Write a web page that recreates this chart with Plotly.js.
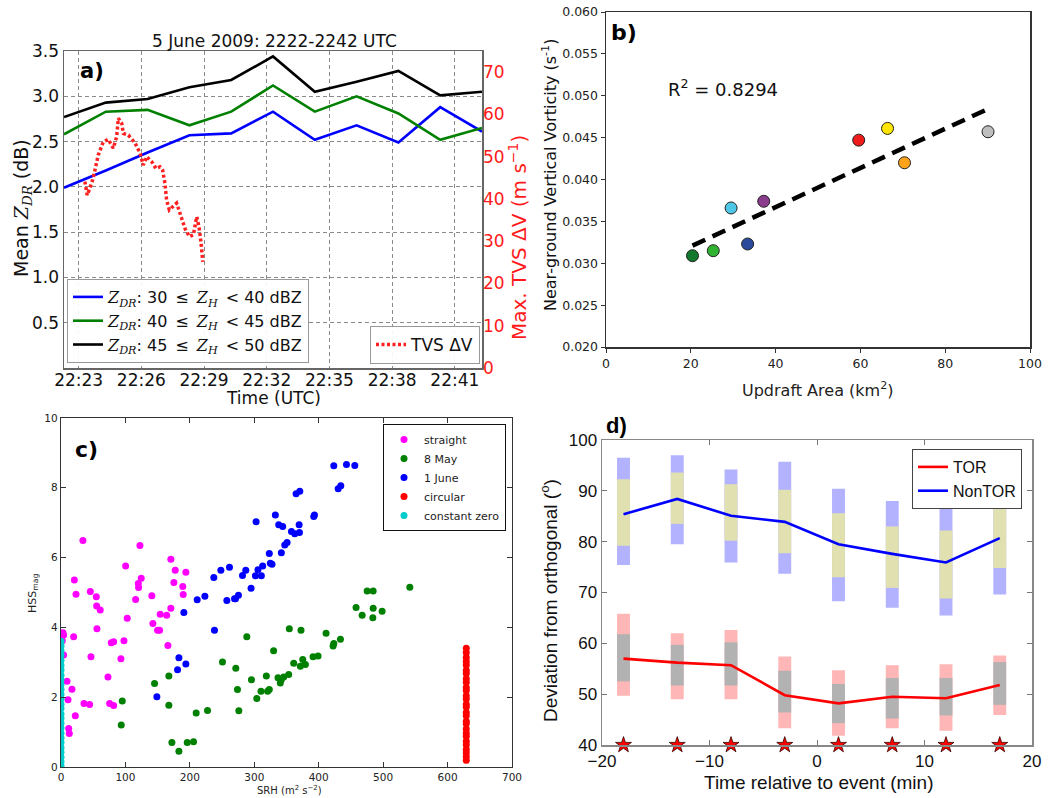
<!DOCTYPE html>
<html>
<head>
<meta charset="utf-8">
<script src="https://cdn.plot.ly/plotly-3.0.1.min.js"></script>
<style>html,body{margin:0;padding:0;background:#fff}#fig{width:1051px;height:798px}</style>
</head>
<body>
<div id="fig"></div>
<script>
// ---------- (a) mean ZDR by reflectivity bin, 5 June 2009 (minutes after 22:00 UTC)
const scanTime  = [22.3, 24.3, 26.3, 28.3, 30.3, 32.3, 34.3, 36.3, 38.3, 40.3, 42.3];
const zdr30to40 = [1.99, 2.18, 2.38, 2.57, 2.59, 2.83, 2.52, 2.68, 2.49, 2.88, 2.61];
const zdr40to45 = [2.58, 2.83, 2.85, 2.68, 2.83, 3.12, 2.83, 3.00, 2.81, 2.52, 2.65];
const zdr45to50 = [2.77, 2.93, 2.97, 3.10, 3.18, 3.44, 3.05, 3.16, 3.28, 3.01, 3.05];
const tvsTime   = [23.30, 23.41, 23.54, 23.67, 23.78, 23.94, 24.18, 24.42, 24.66, 24.82, 24.90, 25.06,
                   25.14, 25.38, 25.70, 25.94, 26.09, 26.26, 26.50, 26.70, 26.89, 27.02, 27.13, 27.21,
                   27.34, 27.69, 27.85, 28.09, 28.30, 28.49, 28.65, 28.76, 28.86, 28.94];
const tvsDeltaV = [44.1, 40.9, 42.6, 44.5, 46.8, 50.4, 53.5, 54.1, 52.0, 54.7, 59.1, 57.9,
                   55.5, 55.1, 53.2, 50.8, 48.0, 50.0, 48.8, 47.2, 47.6, 46.8, 43.7, 39.7,
                   37.4, 39.0, 36.6, 33.0, 31.1, 31.5, 35.8, 33.4, 29.5, 25.1];
const timeTicks    = [23, 26, 29, 32, 35, 38, 41];
const timeTickText = ['22:23', '22:26', '22:29', '22:32', '22:35', '22:38', '22:41'];

// ---------- (b) updraft area vs near-ground vertical vorticity
const updraftArea = [20.4, 25.3, 33.4, 29.5, 37.2, 59.6, 66.4, 70.4, 90.1];
const vorticity   = [0.0309, 0.0315, 0.0323, 0.0366, 0.0374, 0.0447, 0.0461, 0.0420, 0.0457];
const runColors   = ['#12782c', '#30b330', '#2b4a9c', '#4ec6e6', '#8b3b8b', '#ee1b1b', '#ffe600', '#ffa31a', '#bebebe'];

// ---------- (c) SRH vs HSS_mag for each hodograph type
const straightSRH = [34, 20.7, 23.3, 19.6, 4, 2, 3, 4, 9.3, 17, 10.9, 22.2, 11.9, 12.9, 35.7, 44.4, 45.5, 54.8, 60.9, 55.3,
                     55.8, 46.5, 72.9, 75.5, 81.7, 78, 81.7, 97.7, 100.3, 102.8, 93, 122.5, 124.5, 120, 120.4, 115.8, 141, 142.6, 149.9, 153,
                     154, 164, 165.9, 170.5, 170.5, 177.3, 175.2, 189, 189.7, 193.8];
const straightHSS = [6.49, 5.36, 4.95, 3.73, 3.78, 3.62, 3.85, 3.21, 2.46, 2.23, 1.93, 1.47, 1.10, 0.96, 1.82, 1.79, 5.03, 4.88, 4.50, 4.61,
                     3.96, 3.16, 2.58, 1.82, 1.76, 3.56, 3.59, 3.62, 5.76, 4.26, 3.10, 6.35, 5.41, 5.26, 5.14, 4.80, 4.91, 4.11, 3.92, 3.92,
                     4.38, 4.35, 3.48, 5.95, 4.55, 5.64, 5.29, 5.17, 4.94, 5.58];
const may8SRH = [93.5, 95.1, 145.2, 167.4, 167.4, 172.1, 183, 195.9, 205.7, 209.8, 227.4, 250.6, 271.3, 273.9, 276, 288.4, 295.6, 303.9, 310.4, 318.7,
                 320.7, 323.3, 330, 336.8, 340.4, 342, 345.6, 353.4, 354.4, 361.2, 372.5, 371.5, 375.2, 379.3, 391.2, 399, 411.4, 422.3, 423.4, 433.7,
                 458, 467.4, 475.2, 484.5, 484, 484.5, 498.4, 541.4];
const may8HSS = [1.20, 1.89, 2.39, 2.61, 1.77, 0.70, 0.45, 0.70, 0.72, 1.55, 1.62, 3.01, 2.83, 2.22, 1.61, 3.73, 2.50, 1.96, 2.17, 2.61,
                 2.17, 2.22, 3.33, 2.56, 2.41, 2.51, 2.58, 2.65, 3.96, 2.97, 3.92, 2.89, 3.08, 2.94, 3.16, 3.18, 3.83, 3.47, 3.54, 3.66,
                 4.57, 4.35, 5.04, 5.04, 4.28, 4.55, 4.46, 5.15];
const june1SRH = [148.8, 190.7, 180.9, 183, 193.8, 211.4, 223.3, 238.2, 237.2, 248.1, 257.4, 261.5, 269.3, 270.8, 275.4, 281.7, 286.8, 295, 301.8, 302.8,
                  305.7, 311, 313, 323.3, 324.9, 327.5, 332.7, 337.9, 344.1, 342, 347.3, 350.9, 357.7, 362.8, 369.6, 370.1, 364.9, 370.6, 392.3, 393.4,
                  423.4, 430.2, 434.3, 443.1, 456];
const june1HSS = [2.01, 4.43, 2.79, 3.13, 2.95, 4.79, 4.89, 3.92, 5.43, 5.64, 4.77, 5.72, 4.82, 4.82, 4.92, 5.49, 5.64, 5.12, 5.48, 7.03,
                  5.65, 5.48, 5.76, 6.12, 5.84, 5.81, 7.22, 6.94, 6.89, 6.14, 6.36, 6.43, 6.75, 6.68, 6.94, 6.72, 7.83, 7.90, 7.18, 7.22,
                  8.63, 7.97, 8.06, 8.67, 8.64];
const circularSRH = [629, 629, 629, 629, 629, 629, 629, 629, 629, 629, 629, 629, 629, 629,
                     629, 629, 629, 629, 629, 629, 629, 629, 629, 629, 629, 629, 629, 629];
const circularHSS = [0.19, 0.30, 0.41, 0.50, 0.64, 0.74, 0.88, 0.97, 1.09, 1.24, 1.31, 1.47, 1.56, 1.72,
                     1.80, 1.95, 2.04, 2.19, 2.28, 2.43, 2.53, 2.68, 2.77, 2.92, 3.02, 3.14, 3.28, 3.40];
const zeroSRH = [0, 0, 0, 0, 0, 0, 0, 0, 0, 0, 0, 0, 0, 0, 0, 0, 0, 0, 0, 0, 0, 0, 0, 0, 0, 0, 0];
const zeroHSS = [0.03, 0.15, 0.28, 0.42, 0.55, 0.70, 0.83, 0.97, 1.12, 1.25, 1.40, 1.52, 1.68, 1.80,
                 1.95, 2.08, 2.22, 2.36, 2.50, 2.63, 2.78, 2.91, 3.05, 3.20, 3.33, 3.47, 3.60];

// ---------- (d) deviation from orthogonal relative to event time
const eventTime     = [-18, -13, -8, -3, 2, 7, 12, 17];
const nontorMedian  = [85.4, 88.4, 85.1, 83.9, 79.5, 77.6, 75.9, 80.7];
const nontorOuterLo = [75.4, 79.5, 75.9, 73.7, 68.3, 67.0, 65.5, 69.6];
const nontorOuterHi = [96.5, 97.0, 94.2, 95.7, 90.4, 88.0, 87.6, 89.5];
const nontorInnerLo = [79.2, 83.5, 80.2, 77.7, 73.0, 70.9, 68.8, 74.8];
const nontorInnerHi = [92.3, 93.6, 91.3, 90.2, 85.6, 83.0, 82.2, 87.8];
const torMedian     = [57.0, 56.2, 55.7, 49.8, 48.2, 49.5, 49.2, 51.8];
const torOuterLo    = [49.7, 49.0, 49.0, 43.3, 41.8, 43.3, 42.8, 45.9];
const torOuterHi    = [65.8, 62.0, 62.6, 57.4, 54.7, 55.7, 55.9, 57.6];
const torInnerLo    = [52.5, 51.7, 51.7, 46.4, 44.3, 45.2, 45.8, 47.9];
const torInnerHi    = [61.8, 59.7, 60.2, 54.6, 52.0, 53.2, 53.2, 56.3];

// ---------- helpers
const W = 1051, H = 798;
const px = v => v / W;          // pixel column -> paper x
const py = v => 1 - v / H;      // pixel row -> paper y
const SANS = 'DejaVu Sans';
const HELV = 'Liberation Sans';
const SERIF = 'DejaVu Serif';

// least-squares fit for panel (b)
function linFit(xs, ys) {
  const n = xs.length;
  const mx = xs.reduce((a, b) => a + b, 0) / n;
  const my = ys.reduce((a, b) => a + b, 0) / n;
  let sxy = 0, sxx = 0;
  for (let i = 0; i < n; i++) { sxy += (xs[i] - mx) * (ys[i] - my); sxx += (xs[i] - mx) ** 2; }
  const slope = sxy / sxx;
  return x => my + slope * (x - mx);
}
const fit = linFit(updraftArea, vorticity);
const fitX = [Math.min(...updraftArea), Math.max(...updraftArea)];
const fitY = fitX.map(fit);

const zdrLabel = (lo, hi) =>
  `<span style="font-family:${SERIF}"><i>Z</i><sub><i>DR</i></sub></span>: ${lo}\u2002\u2264\u2002` +
  `<span style="font-family:${SERIF}"><i>Z</i><sub><i>H</i></sub></span>\u2002&lt; ${hi} dBZ`;

const traces = [];

// (a)
[[zdr30to40, '#0000ff', zdrLabel(30, 40)],
 [zdr40to45, '#008000', zdrLabel(40, 45)],
 [zdr45to50, '#000000', zdrLabel(45, 50)]].forEach(([vals, col, name]) => {
  traces.push({type: 'scatter', mode: 'lines', x: scanTime, y: vals, name,
    line: {color: col, width: 2.6}, xaxis: 'x', yaxis: 'y', legend: 'legend'});
});
traces.push({type: 'scatter', mode: 'lines', x: tvsTime, y: tvsDeltaV, name: 'TVS \u0394V',
  line: {color: '#ff2020', width: 3.5, dash: '3px,2.5px'}, xaxis: 'x', yaxis: 'y5', legend: 'legend2'});

// (b)
traces.push({type: 'scatter', mode: 'lines', x: fitX, y: fitY, showlegend: false,
  line: {color: '#000', width: 4.5, dash: '14px,8px'}, xaxis: 'x2', yaxis: 'y2'});
traces.push({type: 'scatter', mode: 'markers', x: updraftArea, y: vorticity, showlegend: false,
  marker: {size: 12, color: runColors, line: {color: '#222', width: 1}}, xaxis: 'x2', yaxis: 'y2'});

// (c)
[[straightSRH, straightHSS, '#ff00ff', 'straight'],
 [may8SRH, may8HSS, '#008000', '8 May'],
 [june1SRH, june1HSS, '#0000ff', '1 June'],
 [circularSRH, circularHSS, '#ff0000', 'circular'],
 [zeroSRH, zeroHSS, '#00cccc', 'constant zero']].forEach(([xs, ys, col, name]) => {
  traces.push({type: 'scatter', mode: 'markers', x: xs, y: ys, name,
    marker: {size: 7, color: col}, xaxis: 'x3', yaxis: 'y3', legend: 'legend3'});
});

// (d) percentile bars (outer range, then inner range on top)
const bar = (lo, hi, col) => ({type: 'bar', x: eventTime, base: lo, y: hi.map((h, i) => h - lo[i]),
  width: 1.2, marker: {color: col, line: {width: 0}}, showlegend: false, hoverinfo: 'skip',
  xaxis: 'x4', yaxis: 'y4'});
traces.push(bar(nontorOuterLo, nontorOuterHi, 'rgb(178,178,255)'));
traces.push(bar(nontorInnerLo, nontorInnerHi, 'rgb(224,224,176)'));
traces.push(bar(torOuterLo, torOuterHi, 'rgb(255,182,182)'));
traces.push(bar(torInnerLo, torInnerHi, 'rgb(178,178,178)'));
traces.push({type: 'scatter', mode: 'lines', x: eventTime, y: torMedian, name: 'TOR',
  line: {color: '#ff0000', width: 2.6}, xaxis: 'x4', yaxis: 'y4', legend: 'legend4'});
traces.push({type: 'scatter', mode: 'lines', x: eventTime, y: nontorMedian, name: 'NonTOR',
  line: {color: '#0000ff', width: 2.6}, xaxis: 'x4', yaxis: 'y4', legend: 'legend4'});
const yRangeD = [40, 100];
traces.push({type: 'scatter', mode: 'markers', x: eventTime, y: eventTime.map(() => yRangeD[0]),
  showlegend: false, cliponaxis: false,
  marker: {symbol: 'star', size: 12, color: '#ff0000', line: {color: '#300', width: 0.8}},
  xaxis: 'x4', yaxis: 'y4'});

// ---------- axes
const gridA = {showgrid: true, gridcolor: '#8a8a8a', griddash: '4px,3px', gridwidth: 1};
const layout = {
  width: W, height: H, margin: {l: 0, r: 0, t: 0, b: 0},
  paper_bgcolor: '#fff', plot_bgcolor: '#fff', barmode: 'overlay', showlegend: true,
  font: {family: SANS, color: '#111'},

  xaxis: Object.assign({domain: [px(64), px(482)], range: [22.3, 42.3], anchor: 'y',
    tickvals: timeTicks, ticktext: timeTickText, ticks: '', zeroline: false, ticklabelstandoff: -4,
    showline: true, mirror: true, linecolor: '#666', linewidth: 1.5,
    tickfont: {family: SANS, size: 17, color: '#111'}}, gridA),
  yaxis: Object.assign({domain: [py(368), py(51)], range: [0, 3.5], anchor: 'x',
    tickvals: [0.5, 1, 1.5, 2, 2.5, 3, 3.5], tickformat: '.1f', ticks: '', zeroline: false,
    showline: true, mirror: true, linecolor: '#666', linewidth: 1.5,
    tickfont: {family: SANS, size: 17, color: '#111'}}, gridA),
  yaxis5: {overlaying: 'y', side: 'right', anchor: 'x', range: [0, 75],
    tickvals: [0, 10, 20, 30, 40, 50, 60, 70], ticks: '', showgrid: false, zeroline: false,
    tickfont: {family: SANS, size: 17, color: '#ff1a1a'}},

  xaxis2: {domain: [px(606), px(1030)], range: [0, 100], anchor: 'y2', dtick: 20,
    ticks: 'outside', ticklen: 4, tickcolor: '#333', showgrid: false, zeroline: false,
    showline: true, mirror: true, linecolor: '#333', linewidth: 1.5,
    tickfont: {family: SANS, size: 12.5, color: '#222'}},
  yaxis2: {domain: [py(347), py(12)], range: [0.02, 0.06], anchor: 'x2', dtick: 0.005, tickformat: '.3f',
    ticks: 'outside', ticklen: 4, tickcolor: '#333', showgrid: false, zeroline: false,
    showline: true, mirror: true, linecolor: '#333', linewidth: 1.5,
    tickfont: {family: SANS, size: 12.5, color: '#222'}},

  xaxis3: {domain: [px(61), px(512)], range: [0, 700], anchor: 'y3', dtick: 100,
    ticks: 'inside', ticklen: 5, tickcolor: '#333', showgrid: false, zeroline: false,
    showline: true, mirror: 'ticks', linecolor: '#333', linewidth: 1.2,
    tickfont: {family: SANS, size: 10.5, color: '#222'}},
  yaxis3: {domain: [py(767), py(418)], range: [0, 10], anchor: 'x3', dtick: 2,
    ticks: 'inside', ticklen: 5, tickcolor: '#333', showgrid: false, zeroline: false,
    showline: true, mirror: 'ticks', linecolor: '#333', linewidth: 1.2,
    tickfont: {family: SANS, size: 10.5, color: '#222'}},

  xaxis4: {domain: [px(602), px(1032)], range: [-20, 20], anchor: 'y4', dtick: 10,
    ticks: 'inside', ticklen: 5, tickcolor: '#777', showgrid: false, zeroline: false,
    showline: true, mirror: 'ticks', linecolor: '#888', linewidth: 1.5,
    tickfont: {family: HELV, size: 17, color: '#111'}},
  yaxis4: {domain: [py(745), py(440)], range: yRangeD, anchor: 'x4', dtick: 10,
    ticks: 'inside', ticklen: 5, tickcolor: '#777', showgrid: false, zeroline: false,
    showline: true, mirror: 'ticks', linecolor: '#888', linewidth: 1.5,
    tickfont: {family: HELV, size: 17, color: '#111'}},

  legend: {x: px(67), y: py(363), xanchor: 'left', yanchor: 'bottom', bgcolor: 'rgba(255,255,255,0.92)',
    bordercolor: '#999', borderwidth: 1, font: {family: SANS, size: 16, color: '#111'},
    itemwidth: 30, tracegroupgap: 0},
  legend2: {x: px(480), y: py(364), xanchor: 'right', yanchor: 'bottom', bgcolor: 'rgba(255,255,255,0.92)',
    bordercolor: '#999', borderwidth: 1, font: {family: SANS, size: 17, color: '#111'}, itemwidth: 30},
  legend3: {x: px(506), y: py(424), xanchor: 'right', yanchor: 'top', bgcolor: '#fff',
    bordercolor: '#111', borderwidth: 1, font: {family: SANS, size: 11, color: '#222'},
    itemwidth: 30, tracegroupgap: 0},
  legend4: {x: px(1022), y: py(449), xanchor: 'right', yanchor: 'top', bgcolor: '#fff',
    bordercolor: '#444', borderwidth: 1, font: {family: HELV, size: 16, color: '#111'},
    itemwidth: 30, tracegroupgap: 0},

  annotations: []
};

const note = (text, x, y, opts) => layout.annotations.push(Object.assign({
  text, x: px(x), y: py(y), xref: 'paper', yref: 'paper', showarrow: false,
  xanchor: 'center', yanchor: 'middle', font: {family: SANS, size: 17, color: '#111'}}, opts || {}));

// panel (a) texts
note('5 June 2009: 2222-2242 UTC', 274, 41, {font: {family: SANS, size: 17, color: '#111'}});
note('<b>a)</b>', 92, 71, {font: {family: SANS, size: 21, color: '#000'}});
note(`Mean <span style="font-family:${SERIF}"><i>Z</i><sub><i>DR</i></sub></span> (dB)`, 22, 208,
  {textangle: -90, font: {family: SANS, size: 19, color: '#111'}});
note('Max. TVS \u0394V (m s<sup>\u22121</sup>)', 518, 238,
  {textangle: -90, font: {family: SANS, size: 20, color: '#ff1a1a'}});
note('Time (UTC)', 273, 398, {font: {family: SANS, size: 17, color: '#111'}});

// panel (b) texts
note('<b>b)</b>', 624, 33, {font: {family: SANS, size: 22, color: '#000'}});
note('R<sup>2</sup> = 0.8294', 723, 88, {font: {family: SANS, size: 18, color: '#111'}});
note('Near-ground Vertical Vorticity (s<sup>-1</sup>)', 549, 175,
  {textangle: -90, font: {family: SANS, size: 16, color: '#111'}});
note('Updraft Area (km<sup>2</sup>)', 818, 389, {font: {family: SANS, size: 16, color: '#222'}});

// panel (c) texts
note('<b>c)</b>', 86, 449, {font: {family: SANS, size: 22, color: '#000'}});
note('HSS<sub>mag</sub>', 33, 594, {textangle: -90, font: {family: SANS, size: 11, color: '#222'}});
note('SRH (m<sup>2</sup> s<sup>\u22122</sup>)', 289, 790, {font: {family: SANS, size: 10, color: '#222'}});

// panel (d) texts
note('<b>d)</b>', 616, 425, {font: {family: HELV, size: 22, color: '#000'}});
note('Deviation from orthogonal (<sup>o</sup>)', 549, 601,
  {textangle: -90, font: {family: HELV, size: 19, color: '#111'}});
note('Time relative to event (min)', 818, 782, {font: {family: HELV, size: 19, color: '#111'}});

Plotly.newPlot('fig', traces, layout, {displayModeBar: false, staticPlot: true});
</script>
</body>
</html>
